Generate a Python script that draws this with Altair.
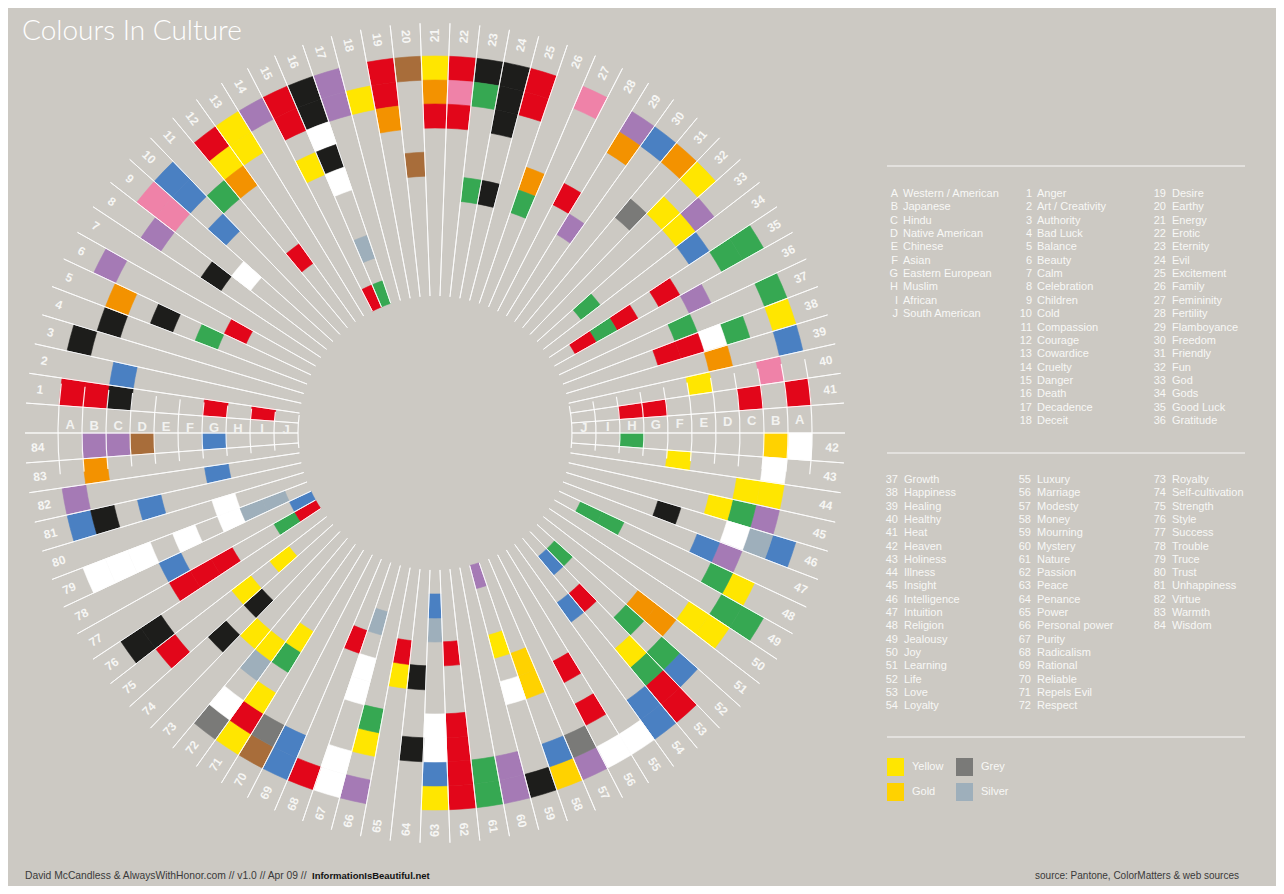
import math
import altair as alt
import pandas as pd

BG = "#ccc9c3"
OFF = 8
CX, CY = 435 - OFF, 433 - OFF

culture_letters = ["A", "B", "C", "D", "E", "F", "G", "H", "I", "J"]
culture_names = ["Western / American", "Japanese", "Hindu", "Native American", "Chinese",
                 "Asian", "Eastern European", "Muslim", "African", "South American"]

concepts = ["Anger", "Art / Creativity", "Authority", "Bad Luck", "Balance", "Beauty", "Calm",
            "Celebration", "Children", "Cold", "Compassion", "Courage", "Cowardice", "Cruelty",
            "Danger", "Death", "Decadence", "Deceit", "Desire", "Earthy", "Energy", "Erotic",
            "Eternity", "Evil", "Excitement", "Family", "Femininity", "Fertility", "Flamboyance",
            "Freedom", "Friendly", "Fun", "God", "Gods", "Good Luck", "Gratitude", "Growth",
            "Happiness", "Healing", "Healthy", "Heat", "Heaven", "Holiness", "Illness", "Insight",
            "Intelligence", "Intuition", "Religion", "Jealousy", "Joy", "Learning", "Life", "Love",
            "Loyalty", "Luxury", "Marriage", "Modesty", "Money", "Mourning", "Mystery", "Nature",
            "Passion", "Peace", "Penance", "Power", "Personal power", "Purity", "Radicalism",
            "Rational", "Reliable", "Repels Evil", "Respect", "Royalty", "Self-cultivation",
            "Strength", "Style", "Success", "Trouble", "Truce", "Trust", "Unhappiness", "Virtue",
            "Warmth", "Wisdom"]

# one string per concept, one character per culture ring A..J ('.' = no colour)
cells = [
    "RRK...R.R.", "..B.......", "K.........", ".K........", ".O.K.G....",
    "P.....R...", "..........", ".P..K.....", "NN...W....", "BB.B......",
    "..G.......", "RYO...R...", "YY........", "P.........", "RR.Y.....R",
    "KKWKW..S.G", "PP........", ".Y........", "RRO.......", "T...T.....",
    "YOR.......", "RNR.......", "KG...G....", "KKK..K....", "RR........",
    "....OG....", "N.........", "....R.....", "PO...P....", "B.........",
    "O..E......", "Y.Y.......", ".PY....G..", "..B.......", "GG..R.RGR.",
    "...P......", "G...G.....", "Y.GWRR....", "B..O......", ".N..Y.....",
    "R.R...RR..", "WD.....G..", ".W...Y....", ".YY.......", ".PGY......",
    "BSW..K....", "..PB......", ".YG....GG.", "GG........", ".YY.......",
    "...OO.....", ".BG.G...G.", "RRGY..R.B.", "BB....B...", "W.........",
    "W.R.R.....", "PE........", "DB..DD....", "K...W.Y..P", "PP........",
    "GG........", "RRRR..R...", "YBWW...SB.", "..K..K....", ".....YR...",
    "P.YG......", "WW..WW.S..", "R.....R...", "BB........", "TE........",
    "YRY.GY....", "EW.SY.....", "....Y.....", "...K.K....", ".R...Y.Y..",
    "KK........", "...RRR..GR", "...B.....B", "WWW.W.WSS.", "......W...",
    "BK.B......", "P.....B...", ".O........", ".PPT..B...",
]

code_names = {"R": "Red", "Y": "Yellow", "D": "Gold", "K": "Black", "W": "White",
              "G": "Green", "B": "Blue", "P": "Purple", "O": "Orange", "N": "Pink",
              "T": "Brown", "E": "Grey", "S": "Silver"}
colour_names = ["Red", "Yellow", "Gold", "Black", "White", "Green", "Blue", "Purple",
                "Orange", "Pink", "Brown", "Grey", "Silver"]
colour_hex = ["#e2061a", "#ffe600", "#ffd200", "#1d1d1b", "#ffffff", "#36a852", "#4a80c2",
              "#a57ab5", "#f39200", "#ef82a8", "#a86d3a", "#7a7a78", "#9eafbb"]

N_SLOTS = 86
A0 = 1.5 * math.pi


def slot_of(c):
    return c if c <= 41 else c + 1


rows = []
for i, s in enumerate(cells):
    c = i + 1
    for ring, ch in enumerate(s):
        if ch != ".":
            rows.append({"concept": c, "t": slot_of(c), "t2": slot_of(c) + 1,
                         "r": ring, "r2": ring + 1, "colour": code_names[ch],
                         "culture": culture_names[ring], "meaning": concepts[i]})
cell_df = pd.DataFrame(rows)

theta_scale = alt.Scale(domain=[0, N_SLOTS], range=[A0, A0 + 2 * math.pi], nice=False, zero=False)
rad_scale = alt.Scale(type="linear", domain=[0, 10], range=[377, 137], nice=False, zero=False)
col_scale = alt.Scale(domain=colour_names, range=colour_hex)

centre = dict(x=alt.value(CX), y=alt.value(CY))

cell_layer = alt.Chart(cell_df).mark_arc(strokeWidth=0.6).encode(
    theta=alt.Theta("t:Q", scale=theta_scale, stack=None),
    theta2="t2:Q",
    radius=alt.Radius("r:Q", scale=rad_scale),
    radius2="r2:Q",
    color=alt.Color("colour:N", scale=col_scale, legend=None),
    stroke=alt.Stroke("colour:N", scale=col_scale, legend=None),
    **centre,
)

# radial separators
line_df = pd.DataFrame({"t": list(range(N_SLOTS))})
line_df["t2"] = line_df["t"] + 0.0005
line_df["r"] = -1.375
line_df["r2"] = 10.0
line_layer = alt.Chart(line_df).mark_arc(fill="white", stroke="white", strokeWidth=0.9,
                                         opacity=0.95).encode(
    theta=alt.Theta("t:Q", scale=theta_scale, stack=None),
    theta2="t2:Q",
    radius=alt.Radius("r:Q", scale=rad_scale),
    radius2="r2:Q",
    **centre,
)

# ring boundary arcs in the two label gaps
ring_rows = []
for b in range(11):
    for (a, z) in [(84.5, 87.8), (40.3, 44.5)]:
        ring_rows.append({"t": a, "t2": z, "r": b - 0.025, "r2": b + 0.025})
ring_df = pd.DataFrame(ring_rows)
ring_layer = alt.Chart(ring_df).mark_arc(fill="white", opacity=0.9).encode(
    theta=alt.Theta("t:Q", scale=theta_scale, stack=None),
    theta2="t2:Q",
    radius=alt.Radius("r:Q", scale=rad_scale),
    radius2="r2:Q",
    **centre,
)

# concept number labels around the wheel
lab_rows = []
for c in range(1, 85):
    t = slot_of(c) + 0.5
    deg = math.degrees(A0 + t / N_SLOTS * 2 * math.pi) % 360
    ang = (deg - 90) if deg < 179.9 else (deg + 90)
    lab_rows.append({"t": t, "r": -0.85, "label": str(c), "ang": ang % 360})
lab_df = pd.DataFrame(lab_rows)
num_layer = alt.Chart(lab_df).mark_text(font="Liberation Sans", fontWeight="bold", fontSize=12,
                                        color="#f6f6f4", align="center", baseline="middle").encode(
    theta=alt.Theta("t:Q", scale=theta_scale, stack=None),
    radius=alt.Radius("r:Q", scale=rad_scale),
    angle=alt.Angle("ang:Q", scale=None),
    text="label:N",
    **centre,
)

# culture letters in the label gaps
let_rows = []
for i, L in enumerate(culture_letters):
    let_rows.append({"t": 0.3, "r": i + 0.5, "label": L})
    let_rows.append({"t": 42.5, "r": i + 0.5, "label": L})
let_df = pd.DataFrame(let_rows)
let_layer = alt.Chart(let_df).mark_text(font="Liberation Sans", fontWeight="bold", fontSize=13,
                                        color="#f2f2f0", align="center", baseline="middle").encode(
    theta=alt.Theta("t:Q", scale=theta_scale, stack=None),
    radius=alt.Radius("r:Q", scale=rad_scale),
    text="label:N",
    **centre,
)

# ---------- right-hand key ----------
TXT = dict(font="Liberation Sans", fontSize=11, color="#f8f8f6", baseline="middle")


def key_col(labels, x, y0, dy, align):
    df = pd.DataFrame({"row": list(range(len(labels))), "label": labels})
    return alt.Chart(df).mark_text(align=align, **TXT).encode(
        x=alt.value(x - OFF),
        y=alt.Y("row:Q", axis=None,
                scale=alt.Scale(domain=[0, 1], range=[y0 - OFF, y0 - OFF + dy],
                                nice=False, zero=False)),
        text="label:N",
    )


dy1, dy2 = 13.35, 13.3
key_layers = [
    key_col(culture_letters, 898, 194, dy1, "right"),
    key_col(culture_names, 903, 194, dy1, "left"),
    key_col([str(i) for i in range(1, 19)], 1032, 194, dy1, "right"),
    key_col(concepts[0:18], 1037, 194, dy1, "left"),
    key_col([str(i) for i in range(19, 37)], 1166, 194, dy1, "right"),
    key_col(concepts[18:36], 1172, 194, dy1, "left"),
    key_col([str(i) for i in range(37, 55)], 898, 480, dy2, "right"),
    key_col(concepts[36:54], 904, 480, dy2, "left"),
    key_col([str(i) for i in range(55, 73)], 1031, 480, dy2, "right"),
    key_col(concepts[54:72], 1037, 480, dy2, "left"),
    key_col([str(i) for i in range(73, 85)], 1166, 480, dy2, "right"),
    key_col(concepts[72:84], 1172, 480, dy2, "left"),
]

rule_df = pd.DataFrame({"k": [0]})
rules = [alt.Chart(rule_df).mark_rule(color="white", strokeWidth=1, opacity=0.9).encode(
    x=alt.value(887 - OFF), x2=alt.value(1245 - OFF), y=alt.value(yy - OFF))
    for yy in [166, 453, 737]]

swatch_names = ["Yellow", "Gold", "Grey", "Silver"]
swatch_hex = ["#ffe600", "#ffd200", "#7a7a78", "#9eafbb"]
swatch_pos = [(887, 758), (887, 783), (956, 758), (956, 783)]
swatches = []
for nm, hx, (sx, sy) in zip(swatch_names, swatch_hex, swatch_pos):
    swatches.append(alt.Chart(rule_df).mark_rect(color=hx).encode(
        x=alt.value(sx - OFF), x2=alt.value(sx + 17 - OFF),
        y=alt.value(sy - OFF), y2=alt.value(sy + 18 - OFF)))
    swatches.append(alt.Chart(pd.DataFrame({"label": [nm]})).mark_text(align="left", **TXT).encode(
        x=alt.value(sx + 25 - OFF), y=alt.value(sy + 9 - OFF), text="label:N"))

title = alt.Chart(pd.DataFrame({"label": ["Colours In Culture"]})).mark_text(
    font="Lato", fontWeight=300, fontSize=28, color="white", align="left", baseline="alphabetic"
).encode(x=alt.value(22 - OFF), y=alt.value(40 - OFF), text="label:N")

foot1 = alt.Chart(pd.DataFrame({"label": ["David McCandless & AlwaysWithHonor.com // v1.0 // Apr 09 //"]})).mark_text(
    font="Liberation Sans", fontSize=10.3, color="#3a3a3a", align="left", baseline="middle"
).encode(x=alt.value(25 - OFF), y=alt.value(876 - OFF), text="label:N")
foot2 = alt.Chart(pd.DataFrame({"label": ["InformationIsBeautiful.net"]})).mark_text(
    font="Liberation Sans", fontSize=9.5, fontWeight="bold", color="#111111", align="left",
    baseline="middle"
).encode(x=alt.value(312 - OFF), y=alt.value(876 - OFF), text="label:N")
source = alt.Chart(pd.DataFrame({"label": ["source: Pantone, ColorMatters & web sources"]})).mark_text(
    font="Liberation Sans", fontSize=10, color="#3a3a3a", align="right", baseline="middle"
).encode(x=alt.value(1239 - OFF), y=alt.value(876 - OFF), text="label:N")

chart = alt.layer(
    cell_layer, ring_layer, line_layer, num_layer, let_layer,
    *key_layers, *rules, *swatches, title, foot1, foot2, source,
).resolve_scale(y="independent").properties(
    width=1268, height=878, background=BG, padding=0,
    autosize=alt.AutoSizeParams(type="none"),
).configure_view(stroke=None)

chart.save("out.html", embed_options={"renderer": "svg", "actions": False})
